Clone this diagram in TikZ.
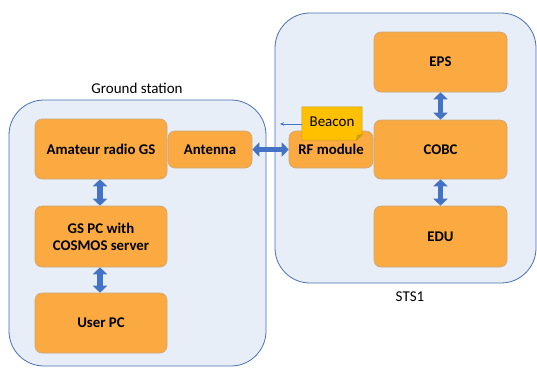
\documentclass[tikz,border=0pt]{standalone}
\usepackage{fontspec}
\setmainfont{Carlito}
\usetikzlibrary{arrows.meta}
\definecolor{boxfill}{HTML}{FBAA41}
\definecolor{boxline}{HTML}{C9A57A}
\definecolor{groupfill}{HTML}{E8EEF7}
\definecolor{groupline}{HTML}{4A6FB5}
\definecolor{linkblue}{HTML}{4472C4}
\definecolor{notefill}{HTML}{FFC000}
\definecolor{noteline}{HTML}{C99A10}
\tikzset{
  group/.style={fill=groupfill,draw=groupline,line width=0.8pt,rounded corners=35pt},
  block/.style={fill=boxfill,draw=boxline,line width=0.6pt,rounded corners=7pt,
    font=\fontsize{14.8}{17}\selectfont\bfseries,align=center,inner sep=0pt},
  link/.style={draw=linkblue,line width=5.5pt,
    {Triangle[width=14pt,length=7pt]}-{Triangle[width=14pt,length=7pt]},shorten <=0pt,shorten >=0pt},
  caption/.style={font=\fontsize{15}{17}\selectfont,inner sep=0pt},
}
\begin{document}
\begin{tikzpicture}[x=1pt,y=-1pt]
\useasboundingbox (0,0) rectangle (537,367);
% containers
\draw[group] (9,100) rectangle (266,366);
\draw[group] (275,13) rectangle (536,283);
\node[caption] (gslabel) at (137,88) {Ground station};
\node[caption] (stslabel) at (410,297) {STS1};
% ground station blocks
\node[block,minimum width=132pt,minimum height=60pt] (radio) at (101,149) {Amateur radio GS};
\node[block,minimum width=84pt,minimum height=37pt] (antenna) at (210,149.5) {Antenna};
\node[block,minimum width=132pt,minimum height=61pt] (gspc) at (101,236.5) {GS PC with\\COSMOS server};
\node[block,minimum width=132pt,minimum height=60pt] (userpc) at (101,323) {User PC};
% satellite blocks
\node[block,minimum width=133pt,minimum height=60pt] (eps) at (440.5,62) {EPS};
\node[block,minimum width=133pt,minimum height=59pt] (cobc) at (440.5,149.5) {COBC};
\node[block,minimum width=133pt,minimum height=61pt] (edu) at (440.5,236.5) {EDU};
\node[block,minimum width=84pt,minimum height=37pt] (rf) at (331,149.5) {RF module};
% beacon note with folded corner
\node[minimum width=60pt,minimum height=33pt,inner sep=0pt] (beacon) at (332,123.5) {};
\filldraw[fill=notefill,draw=noteline,line width=0.5pt]
  (beacon.north west) -- (beacon.north east) -- ([yshift=6pt]beacon.south east)
  -- ([xshift=-6pt]beacon.south east) -- (beacon.south west) -- cycle;
\filldraw[fill=noteline!80!notefill,draw=noteline,line width=0.5pt]
  ([xshift=-6pt]beacon.south east) -- ([yshift=6pt]beacon.south east)
  -- ([xshift=-4.8pt,yshift=4.8pt]beacon.south east) -- cycle;
\node[font=\fontsize{15}{17}\selectfont,inner sep=0pt] (beacontext) at ([yshift=2pt]beacon.center) {Beacon};
\coordinate (beaconend) at (280,124);
\draw[linkblue,line width=0.6pt,-{Stealth[length=4pt,width=3.5pt]}] (beacon.west |- beaconend) -- (beaconend);
% links
\draw[link] (radio.south -| 100,0) -- (gspc.north -| 100,0);
\draw[link] (gspc.south -| 100,0) -- (userpc.north -| 100,0);
\draw[link] (eps.south) -- (cobc.north);
\draw[link] (cobc.south) -- (edu.north);
\draw[link] (antenna.east) -- (rf.west);
\end{tikzpicture}
\end{document}
